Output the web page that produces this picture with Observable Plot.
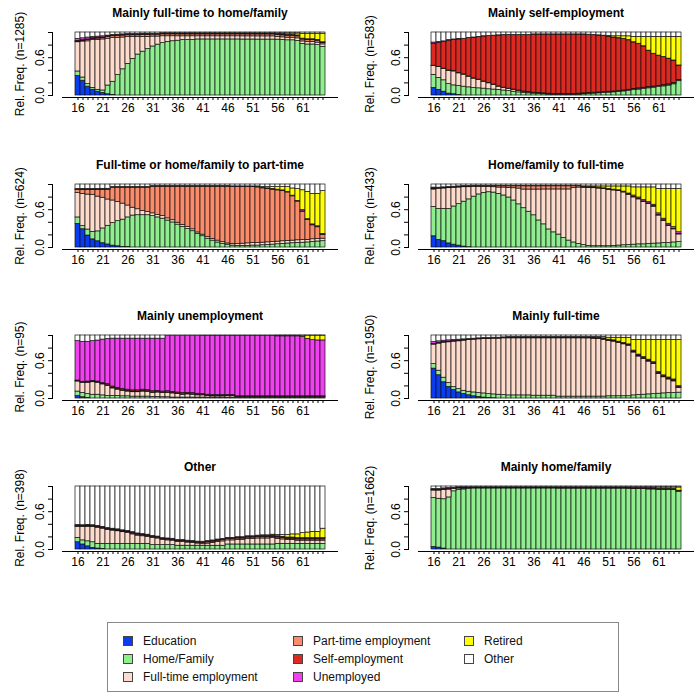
<!DOCTYPE html>
<html>
<head>
<meta charset="utf-8">
<script src="https://cdn.jsdelivr.net/npm/d3@7"></script>
<script src="https://cdn.jsdelivr.net/npm/@observablehq/plot@0.6"></script>
<style>
  body { margin: 0; background: white; font-family: "Liberation Sans", Arial, sans-serif; }
  #wrap { position: relative; width: 700px; height: 700px; background: white; }
  .panel { position: absolute; }
  #legend { position: absolute; left: 107px; top: 622px; width: 512px; height: 70px; border: 1px solid #888; box-sizing: border-box; font-size: 12px; color: #111; }
  .item { position: absolute; display: flex; align-items: center; white-space: nowrap; }
  .sw { width: 10px; height: 10px; border: 1px solid #444; box-sizing: border-box; margin-right: 10px; }
</style>
</head>
<body>
<div id="wrap"><div id="legend"></div></div>
<script>
// ---- categories ----
const ages = [16,17,18,19,20,21,22,23,24,25,26,27,28,29,30,31,32,33,34,35,36,37,38,39,40,41,42,43,44,45,46,47,48,49,50,51,52,53,54,55,56,57,58,59,60,61,62,63,64,65];
const ageLabels = [16,21,26,31,36,41,46,51,56,61];
const yTicks = [0,0.2,0.4,0.6,0.8,1];
const yLabels = [0,0.6];
const states = ["Education","Home/Family","Full-time employment","Part-time employment","Self-employment","Unemployed","Retired","Other"];
const colors = ["#0a3cf0","#90ee90","#fddccd","#fa8c6c","#dc2a22","#f040f0","#ffff00","#ffffff"];
const titles = ["Mainly full-time to home/family","Mainly self-employment","Full-time or home/family to part-time","Home/family to full-time","Mainly unemployment","Mainly full-time","Other","Mainly home/family"];
const sizes = [1285,583,624,433,95,1950,398,1662];

// ---- panel 1: Mainly full-time to home/family (percent) ----
const p1_edu  = [30,23,14,9,6,4,2,1,0,0, 0,0,0,0,0,0,0,0,0,0, 0,0,0,0,0,0,0,0,0,0, 0,0,0,0,0,0,0,0,0,0, 0,0,0,0,0,0,0,0,0,0];
const p1_home = [7,5,4,3,3,4,14,21,33,42, 51,59,66,71,75,79,82,84,86,87, 87,88,88,89,89,89,89,89,89,89, 89,89,89,88,88,88,87,87,87,87, 86,86,85,85,84,84,83,83,82,80];
const p1_ft   = [45,56,68,75,79,81,75,70,60,51, 43,35,28,24,20,16,13,11,9,8, 7,6,6,6,5,5,5,5,5,5, 5,5,5,5,5,5,5,5,5,5, 4,4,4,4,4,4,4,4,4,4];
const p1_pt   = [1,1,2,2,2,2,3,3,3,3, 3,3,3,3,3,3,3,3,3,3, 3,3,3,3,3,3,3,3,3,3, 3,3,3,3,3,3,3,3,3,3, 3,3,3,3,3,3,3,3,3,2];
const p1_self = [1,1,1,1,1,1,1,1,1,1, 1,1,1,1,1,1,1,1,1,1, 1,1,1,1,1,1,1,1,1,1, 1,1,1,1,1,1,1,1,1,1, 1,1,1,1,1,1,1,1,1,1];
const p1_unem = [3,3,3,2,2,2,1,1,1,1, 1,1,1,1,1,0.5,0.5,0.5,0.5,0.5, 0.5,0.5,0.5,0.5,0.5,0.5,0.5,0.5,0.5,0.5, 0.5,0.5,0.5,0.5,0.5,0.5,0.5,0.5,0.5,0.5, 0.5,0.5,0.5,0.5,0.5,0.5,0.5,0.5,0.5,0.5];
const p1_ret  = [0,0,0,0,0,0,0,0,0,0, 0,0,0,0,0,0,0,0,0,0, 0,0,0,0,0,0,0,0,0,0, 0,0,0,0,0,0,0,0,0,0, 1,1.5,2,2,3,8,9,9,10,14];
const p1_oth  = [10,9,8,7,6.5,6,5,4,3.5,3, 2.5,2.5,2.5,2,2,2,2,1.5,1.5,1.5, 1.5,1.5,1.5,1.5,1.5,1.5,1.5,1.5,1.5,1.5, 1.5,1.5,1.5,1.5,1.5,1.5,1.5,1.5,1.5,1.5, 1.5,1.5,1.5,1.5,1.5,2,2,2,2,2];

// ---- panel 2: Mainly self-employment ----
const p2_edu  = [12,9,6,3,2,1,0,0,0,0, 0,0,0,0,0,0,0,0,0,0, 0,0,0,0,0,0,0,0,0,0, 0,0,0,0,0,0,0,0,0,0, 0,0,0,0,0,0,0,0,0,0];
const p2_home = [21,19,18,15,14,14,14,13,12,11.5, 11,10,9.5,9,8,7,6,5,4,3.5, 3,2.5,2,1.5,1,1,1,1,1,1.5, 2,2.5,3,3.5,4,4.5,5,5.5,6.5,7.5, 8.5,9.5,10.5,11.5,12.5,13.5,14.5,16,18,23];
const p2_ft   = [14,17,18,21,22,20,19,17,15,13.5, 11,9.5,7.5,5,4,3.5,3,2.5,2,1.5, 1,1,1,1,1,1,1,1,1,1, 1,1,1,1,1,1,1,1,1,1, 1.5,1.5,1.5,1.5,1.5,1.5,1.5,1.5,1.5,1.5];
const p2_pt   = [0.5,0.5,0.5,0.5,0.5,0.5,0.5,0.5,0.5,0.5, 0.5,0.5,0.5,0.5,0.5,0.5,0.5,0.5,0.5,0.5, 0.5,0.5,0.5,0.5,0.5,0.5,0.5,0.5,0.5,0.5, 0.5,0.5,0.5,0.5,0.5,0.5,0.5,0.5,0.5,0.5, 0.5,0.5,0.5,0.5,0.5,0.5,0.5,0.5,0.5,0.5];
const p2_self = [35,38,42,47,49,53,56,61,65,68, 72,75,78,81,84,85.5,87,88.5,90,91, 93,93.5,94,94.5,95,95,95,95,94.5,94, 93.5,92.5,91.5,90.5,89.5,87,85.5,84,81.5,78, 74,71,66,58,52,48,44.5,41,36,23];
const p2_unem = [2,1.5,1,1,1,1,0.5,0.5,0.5,0.5, 0.3,0.3,0.3,0.3,0.3,0.3,0.3,0.3,0.3,0.3, 0.3,0.3,0.3,0.3,0.3,0.3,0.3,0.3,0.3,0.3, 0.3,0.3,0.3,0.3,0.3,0.3,0.3,0.3,0.3,0.3, 0.3,0.3,0.3,0.3,0.3,0.3,0.3,0.3,0.3,0.3];
const p2_ret  = [0,0,0,0,0,0,0,0,0,0, 0,0,0,0,0,0,0,0,0,0, 0,0,0,0,0,0,0,0,0,0, 0,0,0,0,0.5,1,2,3,4,6, 8.5,11,15,22,27,30,32,35,38,46];
const p2_oth  = [16,15,14,12,11,10,10,8.5,8,7, 6,5.5,5,4.5,4,4,4,4,4,4, 3,3,3,3,3,3,3,3,3,3, 3,3.5,4,4.5,5,5.5,6,6,6,6, 7,7,7,7,7,7,7,7,7,7];

// ---- panel 3: Full-time or home/family to part-time ----
const p3_edu  = [37,29,19,13,10,7,5,3,2,1, 1,0,0,0,0,0,0,0,0,0, 0,0,0,0,0,0,0,0,0,0, 0,0,0,0,0,0,0,0,0,0, 0,0,0,0,0,0,0,0,0,0];
const p3_home = [10,5,9.5,12,16,24,30.5,36,40,43.5, 47,51,51.5,51.5,51.5,50,48,46,43,40, 36.5,33,29.5,26,21.5,18,14,11,8,6, 4.5,3,2.5,2.5,2.5,3,3,3.5,4,4.5, 5,5.5,6,6.5,7,7.5,8,9,9.5,10];
const p3_ft   = [38,51,55.5,58.5,56,50,43,36,30.5,25.5, 19,12.5,9.5,6.5,5,4.5,4,4,3.5,3.5, 3,3,3,3,2.5,2.5,2.5,2.5,3,2.5, 2,2.5,3,3.5,4,4,4,4,4,4, 4,4,4,4,4,4,4,4,4,4];
const p3_pt   = [5,6.5,7.5,8.5,11,13,16,20.5,23,25.5, 28.5,32,34.5,37.5,39,42.5,45,47,50.5,53.5, 57.5,61,64.5,68,73,76.5,80.5,83.5,86,88.5, 90.5,91,90.5,89.5,88,86.5,86,84.5,82.5,81.5, 79,76.5,73,67.5,59,44.5,31,22,18.5,6];
const p3_self = [0.5,0.5,0.5,0.5,0.5,0.5,0.5,0.5,0.5,0.5, 0.5,0.5,0.5,0.5,0.5,0.5,0.5,0.5,0.5,0.5, 0.5,0.5,0.5,0.5,0.5,0.5,0.5,0.5,0.5,0.5, 0.5,0.5,0.5,0.5,0.5,0.5,0.5,0.5,0.5,0.5, 0.5,0.5,0.5,0.5,0.5,0.5,0.5,0.5,0.5,0.5];
const p3_unem = [1,1,1,1,1,1,1,0.5,0.5,0.5, 0.5,0.5,0.5,0.5,0.5,0.5,0.5,0.5,0.5,0.5, 0.5,0.5,0.5,0.5,0.5,0.5,0.5,0.5,0.5,0.5, 0.5,0.5,0.5,0.5,0.5,0.5,0.5,0.5,0.5,0.5, 0.5,0.5,0.5,0.5,0.5,2,1,1,1,1];
const p3_ret  = [0,0,0,0,0,0,0,0,0,0, 0,0,0,0,0,0,0,0,0,0, 0,0,0,0,0,0,0,0,0,0, 0,0,0,0,0,0,0.5,1,2,3, 4,5,7,11,18,31,43,48,51,68];
const p3_oth  = [7,7,7,7,7,7,7,4,4,4, 4,4,4,4,4,2.5,2.5,2.5,2.5,2.5, 2.5,2.5,2.5,2.5,2.5,2.5,2.5,2.5,2.5,2.5, 2.5,3,3,3,3,3,3,4,4,4, 4,4,4,6,7,9,11.5,15,15,10.5];

// ---- panel 4: Home/family to full-time ----
const p4_edu  = [18,12,10,6.5,4.5,3,1.5,0.5,0,0, 0,0,0,0,0,0,0,0,0,0, 0,0,0,0,0,0,0,0,0,0, 0,0,0,0,0,0,0,0,0,0, 0,0,0,0,0,0,0,0,0,0];
const p4_home = [47,49,51,54.5,60.5,66,71.5,76.5,81,84.5, 87,88,87,84.5,82,78,73,67,61,55.5, 50,42,36.5,28.5,24,20.5,15,11,8,5.5, 4,2.5,2,2,2,2,2.5,3,3.5,4, 4.5,5,5,5.5,6,6.5,7,7,8,8.5];
const p4_ft   = [28,32,32.5,33,29.5,26.5,23,19.5,15.5,12, 9.5,8.5,8.5,10,12.5,15,19,24.5,29,34.5, 40,48,55,63,68,71.5,77,81,86,90, 91.5,92,91,90,89.5,88,86.5,84.5,81.5,78, 75,71,66.5,62.5,57.5,44.5,35,27,20.5,12];
const p4_pt   = [1,1,1,1,1,1,1,1,1,1, 1,1,1.5,2,2,2.5,3,3.5,5,5, 5,5,5,5,5,5,5,5,3,2, 1.5,0.5,0.5,0.5,0.5,0.5,0.5,0.5,0.5,0.5, 0.5,0.5,0.5,0.5,0.5,0.5,0.5,0.5,0.5,0.5];
const p4_self = [1,0.5,0.5,0.5,0.5,0.5,0.5,0.5,0.5,0.5, 0.5,0.5,0.5,0.5,0.5,0.5,0.5,0.5,0.5,0.5, 0.5,0.5,0.5,0.5,0.5,0.5,0.5,0.5,0.5,0.5, 0.5,0.5,0.5,0.5,0.5,0.5,0.5,0.5,0.5,0.5, 0.5,0.5,0.5,0.5,0.5,0.5,0.5,0.5,0.5,0.5];
const p4_unem = [1,0.3,0.3,0.3,0.3,0.3,0.3,0.3,0.3,0.3, 0.3,0.3,0.3,0.3,0.3,0.3,0.3,0.3,0.3,0.3, 0.3,0.3,0.3,0.3,0.3,0.3,0.3,0.3,0.3,0.3, 0.3,0.3,0.3,0.3,0.3,0.3,0.3,0.3,0.3,1, 2,2,2,2,2,2.5,2.5,2.5,2.5,2.5];
const p4_ret  = [0,0,0,0,0,0,0,0,0,0, 0,0,0,0,0,0,0,0,0,0, 0,0,0,0,0,0,0,0,0,0, 0.5,1,1.5,2,3,4,5,6,8,11, 13,16,20,23,27,39,47,55,60,68];
const p4_oth  = [5,5,4.5,4,3.5,3,2.5,2.5,2,2, 2,2,2,2,2,2,2,2,2,2, 2,2,2,2,2,2,2,2,2,2, 3,3,3,3,3,3,3,3,3,3, 4.5,4.5,4.5,4.5,4.5,7,7,7,7,7];

// ---- panel 5: Mainly unemployment ----
const p5_edu  = [4,2,1,0,0,0,0,0,0,0, 0,0,0,0,0,0,0,0,0,0, 0,0,0,0,0,0,0,0,0,0, 0,0,0,0,0,0,0,0,0,0, 0,0,0,0,0,0,0,0,0,0];
const p5_home = [7,7,6,6,6,5,4,4,4,3.5, 3.5,3,3,3,3,2.5,2.5,2,2,1.5, 1.5,1.5,1.5,1.5,1.5,1.5,1.5,1.5,1.5,1.5, 1,1,1,1,1,1,1,1,1,1, 1,1,1,1,1,1,1,1,1,1];
const p5_ft   = [16,16,18,20,19,17.5,16,12,10,8.5, 7.5,7,7,8,7.5,6.5,7,6.5,7,6.5, 5.5,4.5,5,4.5,3.5,3.5,2.5,2,2,2, 2.5,2.5,1.5,1.5,1.5,1.5,1.5,1.5,1.5,1.5, 1.5,1.5,1.5,1.5,1.5,1.5,1.5,1.5,1.5,1.5];
const p5_pt   = [0.5,0.5,1,1,1,1,1,1,1,1, 1,1,1,1,1,0.5,0.5,0.5,0.5,0.5, 0.5,0.5,0.5,0.5,0.5,0.5,0.5,0.5,0.5,0.5, 0.5,0.5,0.5,0.5,0.5,0.5,0.5,0.5,0.5,0.5, 0.5,0.5,0.5,0.5,0.5,0.5,0.5,0.5,0.5,0.5];
const p5_self = [1,1,1,1,1,1,2,2,2,2, 2,2,2,2,2,2,2,2,2,2, 2,2,2,2,2,1.5,1.5,1.5,1.5,1.5, 1.5,1.5,0.5,0.5,0.5,0.5,0.5,0.5,0.5,0.5, 0.5,0.5,0.5,0.5,0.5,0.5,0.5,0.5,0.5,0.5];
const p5_unem = [62.5,63.5,63.5,63.5,65.5,69.5,71.5,76,78,80, 81,82,82,81,81.5,83,82.5,83.5,87,88, 89,90,89.5,90,91,92.5,93.5,94,94,94, 94,94,96,96,96,96,96,96,96,96, 96,96,96,96,96,94.5,91.5,88.5,88.5,88.5];
const p5_ret  = [0,0,0,0,0,0,0,0,0,0, 0,0,0,0,0,0,0,0,0,0, 0,0,0,0,0,0,0,0,0,0, 0,0,0,0,0,0,0,0,0,0.5, 1,1,1,1,1,2,5,7,7.5,7.5];
const p5_oth  = [9,10,10,9,8,6.5,5.5,5,5,5, 5,5,5,5,5,5,5,5,1,1, 1,1,1,1,1,0.5,0.5,0.5,0.5,0.5, 0.5,0.5,0.5,0.5,0.5,0.5,0.5,0.5,0.5,0.5, 0.3,0.3,0.3,0.3,0.3,0.3,0.3,0.3,0.3,0.3];

// ---- panel 6: Mainly full-time ----
const p6_edu  = [46,36,25,18,13,9.5,7,5,3.5,2.5, 1.5,1,0.5,0,0,0,0,0,0,0, 0,0,0,0,0,0,0,0,0,0, 0,0,0,0,0,0,0,0,0,0, 0,0,0,0,0,0,0,0,0,0];
const p6_home = [7,7,7,6,4.5,5,5,5.5,6,6, 6.5,6,6,6,5.5,5,5,5,5,5, 4.5,4.5,4.5,4.5,4.5,3,3,3,3,3, 3,3,3,3,3,3.5,3.5,3.5,3.5,3.5, 5,5.5,6,6.5,7,7.5,8,8.5,8.5,9];
const p6_ft   = [30,42,54,63,70.5,74.5,78,80.5,82.5,84.5, 85.5,87,88,89,90.5,91,91,91,91,91, 91.5,91.5,91.5,91.5,91.5,93,93,93,93,93, 92,91.5,90.5,89.5,88,86.5,85,82.5,79.5,77, 68,60.5,56,51.5,47,31,25,21,18,7];
const p6_pt   = [0.5,0.5,0.5,0.5,0.5,0.5,0.5,0.5,0.5,0.5, 0.5,0.5,0.5,0.5,0.5,0.5,0.5,0.5,0.5,0.5, 0.5,0.5,0.5,0.5,0.5,0.5,0.5,0.5,0.5,0.5, 0.5,0.5,0.5,0.5,0.5,0.5,0.5,0.5,0.5,0.5, 0.5,0.5,0.5,0.5,0.5,0.5,0.5,0.5,0.5,0.5];
const p6_self = [0.5,0.5,0.5,0.5,0.5,0.5,0.5,0.5,0.5,0.5, 0.5,0.5,0.5,0.5,0.5,1,1,1,1,1, 1,1,1,1,1,1,1,1,1,1, 1,1,1,1,1,1,1,1,1,1, 1,1,1,1,1,1,1,1,1,1];
const p6_unem = [3,2.5,2,2,1.5,1.5,1,0.5,0.5,0.5, 0.5,0.5,0.5,0.5,0.5,0.5,0.5,0.5,0.5,0.5, 0.5,0.5,0.5,0.5,0.5,0.5,0.5,0.5,0.5,0.5, 0.5,0.5,0.5,0.5,0.5,0.5,0.5,0.5,0.5,0.5, 1.5,1.5,1.5,1.5,1.5,1.5,1.5,1.5,1.5,1.5];
const p6_ret  = [0,0,0,0,0,0,0,0,0,0, 0,0,0,0,0,0,0,0,0,0, 0,0,0,0,0,0,0,0,0,0, 0,0,0.5,1,2,3,4,6,8,10, 17,23,27,31,35,50,55,58,61,71];
const p6_oth  = [10,9,8,7.5,7,6.5,6,5.5,5,4.5, 4,4,3.5,3.5,3,2.5,2.5,2.5,2.5,2.5, 2.5,2.5,2.5,2.5,2.5,2.5,2.5,2.5,2.5,2.5, 2.5,2.5,2.5,2.5,2.5,3.5,3.5,3.5,3.5,3.5, 7,7,7,7,7,7,7,7,7,7];

// ---- panel 7: Other ----
const p7_edu  = [11.5,8,5,2.5,1.5,1,0,0,0,0, 0,0,0,0,0,0,0,0,0,0, 0,0,0,0,0,0,0,0,0,0, 0,0,0,0,0,0,0,0,0,0, 0,0,0,0,0,0,0,0,0,0];
const p7_home = [7,6.5,8,9,7.5,8,9,9,9,9, 9,9,9,9,9,7,7,7,7,7, 6,6,6,6,6,6,6,6,6,6, 8,8,8,8,8,8,8,8,8,8, 9,9,9,9,9,9,9,9,9,9];
const p7_ft   = [17,21,23,24,25.5,24,22,21,20,18.5, 17,15,13,12,11,11.5,10.5,8,7.5,7, 6,6,5,4.5,3.5,2.5,3.5,4.5,6,7, 6.5,6.5,7.5,7.5,9,9,9.5,9.5,9.5,10, 8,7,6,6,5,5,5,5,5,5];
const p7_pt   = [1,1,1,1,1,1,1,1,1,1, 1.5,1.5,1.5,1.5,1.5,1.5,1.5,1.5,1.5,1.5, 1.5,1.5,1.5,1.5,1.5,2,2,2,2,2, 2,2,2,2,2,2,2,2,2,2, 2,2,2,2,2,2,2,2,2,2];
const p7_self = [1,1,1,1,1,1,1,1,1,1, 1,1,1,1,1,1,1,1,1,1, 1,1,1,1,1,1.5,1.5,1.5,1.5,1.5, 1.5,1.5,1.5,1.5,1.5,1.5,1.5,1.5,1.5,1.5, 1.5,1.5,1.5,1.5,1.5,1.5,1.5,1.5,1.5,1.5];
const p7_unem = [1.5,1,1,1,1,1,1,1,1,1, 1,1,1,1,1,0.5,0.5,0.5,0.5,0.5, 0.5,0.5,0.5,0.5,0.5,0.5,0.5,0.5,0.5,0.5, 0.5,0.5,0.5,0.5,0.5,0.5,0.5,0.5,0.5,0.5, 0.5,0.5,0.5,0.5,0.5,0.5,0.5,0.5,0.5,0.5];
const p7_ret  = [0,0,0,0,0,0,0,0,0,0, 0,0,0,0,0,0,0,0,0,0, 0,0,0,0,0,0,0,0,0,0, 0,0,0,0,0,0,0.5,1,1,1.5, 2,3,4,5,6,8,9,10,10,15];
const p7_oth  = [61,61.5,61,61.5,62.5,64,66,67,68,69.5, 70.5,72.5,74.5,75.5,76.5,78.5,79.5,82,82.5,83, 85,85,86,86.5,87.5,88.5,87.5,86.5,85,84, 81.5,81.5,80.5,80.5,79,79,78,77.5,77.5,76.5, 77,77,77,76,76,74,73,72,72,67];

// ---- panel 8: Mainly home/family ----
const p8_edu  = [4,3,1.5,0,0,0,0,0,0,0, 0,0,0,0,0,0,0,0,0,0, 0,0,0,0,0,0,0,0,0,0, 0,0,0,0,0,0,0,0,0,0, 0,0,0,0,0,0,0,0,0,0];
const p8_home = [77.5,77,78.5,82.5,92,94.5,95,96,97,97, 97,97,97,97,97,97,97,97,97,97, 97,97,97,97,97,96,96,96,96,96, 96,96,96,96,96,96,96,96,96,96, 94.5,94.5,94.5,94.5,94.5,93.5,93.5,93.5,93.5,90];
const p8_ft   = [12,13,15,12.5,4,2,1.5,1,0.5,0.5, 0.5,0.5,0.5,0.5,0.5,0.5,0.5,0.5,0.5,0.5, 0.5,0.5,0.5,0.5,0.5,0.5,0.5,0.5,0.5,0.5, 0.5,0.5,0.5,0.5,0.5,0.5,0.5,0.5,0.5,0.5, 0.5,0.5,0.5,0.5,0.5,0.5,0.5,0.5,0.5,0.5];
const p8_pt   = [0.3,0.3,0.3,0.3,0.3,0.3,0.3,0.3,0.3,0.3, 0.3,0.3,0.3,0.3,0.3,0.3,0.3,0.3,0.3,0.3, 0.3,0.3,0.3,0.3,0.3,0.5,0.5,0.5,0.5,0.5, 0.5,0.5,0.5,0.5,0.5,0.5,0.5,0.5,0.5,0.5, 0.3,0.3,0.3,0.3,0.3,0.3,0.3,0.3,0.3,0.3];
const p8_self = [1,1,1,1,1,1,1,0.5,0.5,0.5, 0.5,0.5,0.5,0.5,0.5,0.5,0.5,0.5,0.5,0.5, 0.5,0.5,0.5,0.5,0.5,0.5,0.5,0.5,0.5,0.5, 0.5,0.5,0.5,0.5,0.5,0.5,0.5,0.5,0.5,0.5, 0.5,0.5,0.5,0.5,0.5,0.5,0.5,0.5,0.5,0.5];
const p8_unem = [1,1,1,1,0.3,0.3,0.3,0.3,0.3,0.3, 0.3,0.3,0.3,0.3,0.3,0.3,0.3,0.3,0.3,0.3, 0.3,0.3,0.3,0.3,0.3,0.3,0.3,0.3,0.3,0.3, 0.3,0.3,0.3,0.3,0.3,0.3,0.3,0.3,0.3,0.3, 0.3,0.3,0.3,0.3,0.3,0.3,0.3,0.3,0.3,0.3];
const p8_ret  = [0,0,0,0,0,0,0,0,0,0, 0,0,0,0,0,0,0,0,0,0, 0,0,0,0,0,0,0,0,0,0, 0,0,0,0,0,0,0,0,0,0.3, 1,1,1,1.5,1.5,2,2,2,2.5,5];
const p8_oth  = [4,4,3,2.5,2,1.5,1.5,1.5,1.5,1.5, 1.5,1.5,1.5,1.5,1.5,1.5,1.5,1.5,1.5,1.5, 1.5,1.5,1.5,1.5,1.5,1.5,1.5,1.5,1.5,1.5, 1.5,1.5,1.5,1.5,1.5,1.5,1.5,1.5,1.5,1.5, 1.5,1.5,1.5,1.5,1.5,1.5,1.5,1.5,1.5,1.5];

const panels = [
  [p1_edu,p1_home,p1_ft,p1_pt,p1_self,p1_unem,p1_ret,p1_oth],
  [p2_edu,p2_home,p2_ft,p2_pt,p2_self,p2_unem,p2_ret,p2_oth],
  [p3_edu,p3_home,p3_ft,p3_pt,p3_self,p3_unem,p3_ret,p3_oth],
  [p4_edu,p4_home,p4_ft,p4_pt,p4_self,p4_unem,p4_ret,p4_oth],
  [p5_edu,p5_home,p5_ft,p5_pt,p5_self,p5_unem,p5_ret,p5_oth],
  [p6_edu,p6_home,p6_ft,p6_pt,p6_self,p6_unem,p6_ret,p6_oth],
  [p7_edu,p7_home,p7_ft,p7_pt,p7_self,p7_unem,p7_ret,p7_oth],
  [p8_edu,p8_home,p8_ft,p8_pt,p8_self,p8_unem,p8_ret,p8_oth]
];

const wrap = document.getElementById("wrap");
const rowTops = [0, 152, 303, 454];

panels.forEach((series, k) => {
  const col = k % 2, row = Math.floor(k / 2);
  const ml = col === 0 ? 62 : 68;
  const mr = col === 0 ? 13 : 7;
  const data = [];
  states.forEach((s, i) => series[i].forEach((v, j) => data.push({age: ages[j], state: s, value: v})));
  const svg = Plot.plot({
    width: 350, height: 132,
    marginLeft: ml, marginRight: mr, marginTop: 32, marginBottom: 37,
    x: {type: "band", domain: ages, padding: 0, axis: null},
    y: {domain: [0, 1], axis: null},
    color: {domain: states, range: colors},
    style: {fontFamily: "'Liberation Sans', Arial, sans-serif", fontSize: "12px", background: "white", color: "black"},
    marks: [
      Plot.barY(data, {x: "age", y: "value", fill: "state", order: states, offset: "normalize", stroke: "#111", strokeWidth: 0.7}),
      Plot.frame({anchor: "left", dx: -10, stroke: "black"}),
      Plot.axisY({ticks: yTicks, tickFormat: () => "", tickSize: 4, dx: -10, label: null}),
      Plot.text(yLabels, {y: d => d, text: d => d.toFixed(1), frameAnchor: "left", dx: -22, rotate: -90, textAnchor: "middle", lineAnchor: "middle", fontSize: 12}),
      Plot.frame({anchor: "bottom", dy: 2, stroke: "black"}),
      Plot.axisX({ticks: ages, tickFormat: d => ageLabels.includes(d) ? String(d) : "", tickSize: 3, dy: 2, tickPadding: 3, label: null, fontSize: 12}),
      Plot.text([titles[k]], {frameAnchor: "top", dy: -19, lineAnchor: "middle", fontWeight: "bold", fontSize: 12}),
      Plot.text([`Rel. Freq. (n=${sizes[k]})`], {frameAnchor: "left", dx: -(ml - 20), rotate: -90, textAnchor: "middle", lineAnchor: "middle", fontSize: 12})
    ]
  });
  const div = document.createElement("div");
  div.className = "panel";
  div.style.left = (col * 350) + "px";
  div.style.top = rowTops[row] + "px";
  div.appendChild(svg);
  wrap.appendChild(div);
});

// legend
const legend = document.getElementById("legend");
const legCols = [[0,1,2],[3,4,5],[6,7]];
const colX = [15, 185, 356];
const rowY = [12, 30, 48];
legCols.forEach((idxs, c) => idxs.forEach((i, r) => {
  const it = document.createElement("div");
  it.className = "item";
  it.style.left = colX[c] + "px";
  it.style.top = (rowY[r] - 1) + "px";
  it.innerHTML = `<span class="sw" style="background:${colors[i]}"></span><span>${states[i]}</span>`;
  legend.appendChild(it);
}));
</script>
</body>
</html>
